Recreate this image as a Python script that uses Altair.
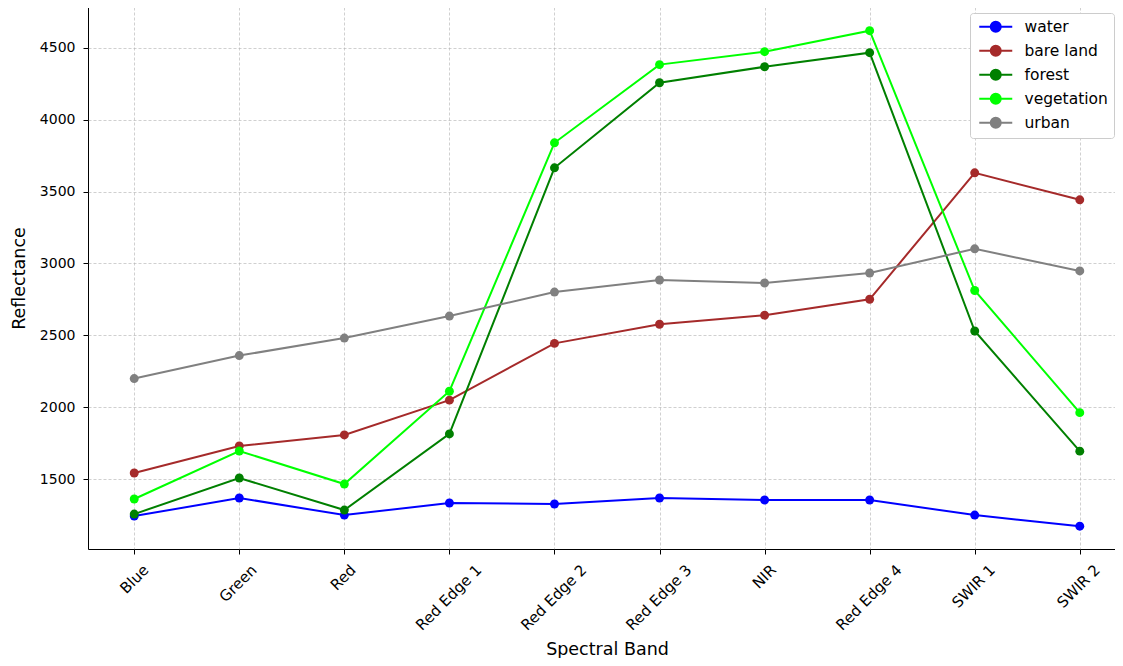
import altair as alt
import pandas as pd

bands = ["Blue", "Green", "Red", "Red Edge 1", "Red Edge 2", "Red Edge 3",
         "NIR", "Red Edge 4", "SWIR 1", "SWIR 2"]
classes = ["water", "bare land", "forest", "vegetation", "urban"]
colors = ["#0000ff", "#a52a2a", "#008000", "#00ff00", "#808080"]

water = [1242, 1368, 1249, 1333, 1326, 1368, 1354, 1354, 1249, 1172]
bare_land = [1542, 1730, 1807, 2049, 2444, 2577, 2640, 2751, 3631, 3443]
forest = [1256, 1507, 1284, 1814, 3666, 4258, 4369, 4467, 2530, 1694]
vegetation = [1361, 1695, 1465, 2111, 3840, 4384, 4474, 4620, 2812, 1962]
urban = [2199, 2359, 2481, 2634, 2801, 2885, 2864, 2934, 3102, 2948]

y_ticks = [1500, 2000, 2500, 3000, 3500, 4000, 4500]

series = [water, bare_land, forest, vegetation, urban]
rows = []
for ci, (cls, vals) in enumerate(zip(classes, series)):
    for bi, (b, v) in enumerate(zip(bands, vals)):
        rows.append({"band": b, "value": v, "cls": cls, "order": ci})
df = pd.DataFrame(rows)

FONT = "DejaVu Sans"
legend_path = "M-3.3,0H3.3M1,0A1,1,0,1,1,-1,0A1,1,0,1,1,1,0Z"

x_enc = alt.X("band:N", sort=bands, scale=alt.Scale(type="point", padding=0.44),
              axis=alt.Axis(title="Spectral Band", labelAngle=-45,
                            labelAlign="right", labelBaseline="top",
                            labelOffset={"expr": "0.3535*(length(datum.label)*8.3-15)"},
                            labelPadding=8, tickSize=5, tickColor="black",
                            labelFontSize=15, labelFont=FONT, labelColor="black",
                            titleFontSize=17.5, titleFont=FONT, titleFontWeight="normal",
                            titleColor="black", titleY=105, titleBaseline="alphabetic",
                            domain=False, grid=True, gridDash=[3, 2],
                            gridColor="#b0b0b0", gridWidth=0.6))
y_enc = alt.Y("value:Q", scale=alt.Scale(domain=[1013, 4785], nice=False, zero=False),
              axis=alt.Axis(title="Reflectance", values=y_ticks, format="d",
                            tickSize=5, tickColor="black", labelPadding=8,
                            labelFontSize=14, labelFont=FONT, labelColor="black",
                            titleFontSize=17.5, titleFont=FONT, titleFontWeight="normal",
                            titleColor="black", titleX=-69, titleY=271,
                            titleBaseline="middle",
                            domain=False, grid=True, gridDash=[3, 2],
                            gridColor="#b0b0b0", gridWidth=0.6))
color_enc = alt.Color("cls:N", scale=alt.Scale(domain=classes, range=colors),
                      sort=classes,
                      legend=alt.Legend(title=None, orient="none", legendX=882, legendY=6,
                                        symbolType=legend_path, symbolSize=100,
                                        symbolOffset=12, symbolStrokeWidth=2,
                                        labelFontSize=15.5, labelFont=FONT,
                                        labelColor="black", labelOffset=21,
                                        rowPadding=5, padding=6,
                                        strokeColor="#cccccc", fillColor="white",
                                        cornerRadius=3))

base = alt.Chart(df)
lines = base.mark_line(strokeWidth=2).encode(
    x=x_enc, y=y_enc, color=color_enc, order="order:Q", detail="cls:N")
points = base.mark_point(filled=True, size=80, opacity=1).encode(
    x=x_enc, y=y_enc, color=color_enc, order="order:Q")

chart = alt.layer(lines, points).properties(
    width=1038, height=542,
    background="white",
    autosize=alt.AutoSizeParams(type="none"),
    padding={"left": 80, "top": -1, "right": -11, "bottom": 109},
).configure_view(stroke="black", strokeWidth=1)

chart.save("out.html", embed_options={"renderer": "svg", "actions": False})
